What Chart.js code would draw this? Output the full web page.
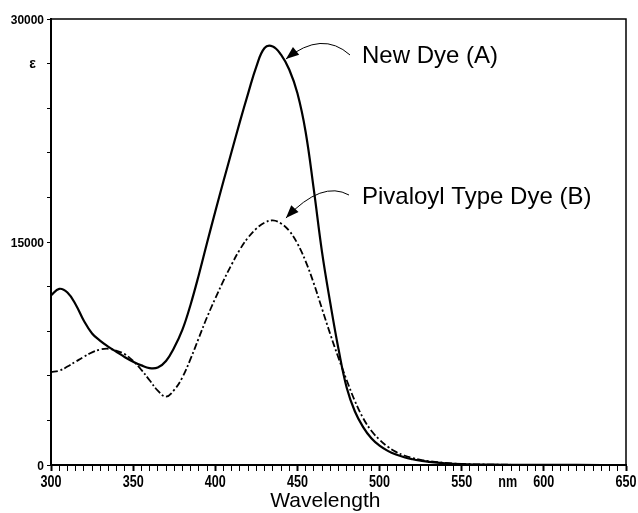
<!DOCTYPE html>
<html>
<head>
<meta charset="utf-8">
<title>Absorption spectra</title>
<script src="https://cdn.jsdelivr.net/npm/chart.js@4.4.1/dist/chart.umd.min.js"></script>
<style>
    html, body { margin: 0; padding: 0; background: #fff; }
    #wrap { width: 638px; height: 513px; position: relative; }
</style>
</head>
<body>
<div id="wrap"><canvas id="spectrum"></canvas></div>
<script>
// Wavelength (nm) samples shared by both curves
const wavelengths = [
    300, 305, 310, 315, 320, 325, 330, 335, 340, 345,
    350, 355, 360, 365, 370, 375, 380, 385, 390, 395,
    400, 405, 410, 415, 420, 425, 430, 435, 440, 445,
    450, 455, 460, 465, 470, 475, 480, 485, 490, 495,
    500, 505, 510, 515, 520, 525, 530, 540, 550, 560,
    570, 580, 600, 620, 650
];

// Molar absorptivity (epsilon)
const newDyeA = [
    11400, 11850, 11600, 10800, 9700, 8850, 8350, 7950, 7600, 7250,
    6950, 6700, 6520, 6560, 7000, 7900, 9100, 10800, 12800, 14950,
    17050, 19100, 21100, 23100, 25000, 26800, 28050, 28150, 27600, 26600,
    25000, 22400, 18500, 14300, 10900, 7800, 5200, 3600, 2550, 1800,
    1300, 950, 700, 520, 390, 290, 210, 110, 55, 30,
    20, 12, 6, 3, 0
];

const pivaloylDyeB = [
    6250, 6350, 6620, 6950, 7280, 7580, 7770, 7820, 7680, 7450,
    7000, 6400, 5700, 5000, 4600, 5050, 5900, 7150, 8550, 9950,
    11200, 12400, 13500, 14500, 15300, 15900, 16300, 16450, 16250, 15750,
    14900, 13700, 12200, 10500, 8800, 7200, 5700, 4300, 3150, 2300,
    1700, 1230, 880, 640, 470, 350, 260, 140, 70, 40,
    25, 15, 7, 3, 0
];

const seriesNames = ['New Dye (A)', 'Pivaloyl Type Dye (B)'];

// Axis text
const xTickLabels = [300, 350, 400, 450, 500, 550, 600, 650];
const yTickLabels = [0, 15000, 30000];
const xUnit = { text: 'nm', at: 578 };
const yUnit = { text: '\u03b5', at: 27000 };
const xTitle = { text: 'Wavelength', at: 467 };

// Callout text anchors and arrow paths, in data units [nm, epsilon]
const calloutText = [[489.3, 27020], [489.3, 17540]];
const calloutStart = [[482, 27580], [481.4, 18160]];
const calloutBend = [[465, 29260], [465, 19170]];
const calloutTip = [[443, 27310], [443, 16610]];

const SpectrumChart = (function() {
    'use strict';

    const textFont = "'Liberation Sans', Arial, sans-serif";

    function toPoints(ys) {
        return wavelengths.map((x, i) => ({ x: x, y: ys[i] }));
    }

    // squeezed bold text, like the narrow face on the original print
    function narrowText(ctx, text, x, y, align, squeeze) {
        ctx.save();
        ctx.translate(x, y);
        ctx.scale(squeeze, 1);
        ctx.textAlign = align;
        ctx.textBaseline = 'alphabetic';
        ctx.fillText(text, 0, 0);
        ctx.restore();
    }

    /**
     * Top and right edges of the frame
     */
    const framePlugin = {
        id: 'frame',
        afterDatasetsDraw(chart) {
            const { ctx, chartArea: a } = chart;
            ctx.save();
            ctx.strokeStyle = '#000';
            ctx.lineWidth = 1.5;
            ctx.beginPath();
            ctx.moveTo(a.left, a.top);
            ctx.lineTo(a.right, a.top);
            ctx.lineTo(a.right, a.bottom);
            ctx.stroke();
            ctx.restore();
        }
    };

    /**
     * Tick labels in a condensed bold face, plus the axis title
     */
    const axisTextPlugin = {
        id: 'axisText',
        afterDraw(chart) {
            const ctx = chart.ctx;
            const xs = chart.scales.x;
            const ys = chart.scales.y;
            const base = chart.chartArea.bottom + 22;

            ctx.save();
            ctx.fillStyle = '#000';
            ctx.font = 'bold 17px ' + textFont;
            xTickLabels.forEach(v => {
                narrowText(ctx, String(v), xs.getPixelForValue(v), base, 'center', 0.74);
            });
            narrowText(ctx, xUnit.text, xs.getPixelForValue(xUnit.at), base, 'center', 0.74);

            ctx.font = 'bold 13px ' + textFont;
            yTickLabels.forEach(v => {
                narrowText(ctx, String(v), 44, ys.getPixelForValue(v) + 4.5, 'right', 0.92);
            });
            ctx.font = 'bold 14px ' + textFont;
            narrowText(ctx, yUnit.text, 36, ys.getPixelForValue(yUnit.at) + 4, 'right', 1);

            ctx.font = '21px ' + textFont;
            narrowText(ctx, xTitle.text, xs.getPixelForValue(xTitle.at), chart.chartArea.bottom + 42, 'center', 1);
            ctx.restore();
        }
    };

    /**
     * Curved arrows with their labels
     */
    const calloutPlugin = {
        id: 'callouts',
        afterDraw(chart) {
            const ctx = chart.ctx;
            const xs = chart.scales.x;
            const ys = chart.scales.y;
            const px = p => [xs.getPixelForValue(p[0]), ys.getPixelForValue(p[1])];

            ctx.save();
            seriesNames.forEach((name, i) => {
                const s = px(calloutStart[i]);
                const c = px(calloutBend[i]);
                const t = px(calloutTip[i]);

                ctx.strokeStyle = '#000';
                ctx.lineWidth = 1;
                ctx.beginPath();
                ctx.moveTo(s[0], s[1]);
                ctx.quadraticCurveTo(c[0], c[1], t[0], t[1]);
                ctx.stroke();

                // arrow head along the end tangent
                const ang = Math.atan2(t[1] - c[1], t[0] - c[0]);
                const len = 13, half = 5;
                ctx.fillStyle = '#000';
                ctx.beginPath();
                ctx.moveTo(t[0], t[1]);
                ctx.lineTo(t[0] - len * Math.cos(ang) + half * Math.sin(ang),
                           t[1] - len * Math.sin(ang) - half * Math.cos(ang));
                ctx.lineTo(t[0] - len * Math.cos(ang) - half * Math.sin(ang),
                           t[1] - len * Math.sin(ang) + half * Math.cos(ang));
                ctx.closePath();
                ctx.fill();

                const p = px(calloutText[i]);
                ctx.font = '24px ' + textFont;
                ctx.textAlign = 'left';
                ctx.textBaseline = 'alphabetic';
                ctx.fillText(name, p[0], p[1]);
            });
            ctx.restore();
        }
    };

    function initialize() {
        const canvas = document.getElementById('spectrum');

        return new Chart(canvas, {
            type: 'line',
            data: {
                datasets: [{
                    label: seriesNames[0],
                    data: toPoints(newDyeA),
                    borderColor: '#000',
                    borderWidth: 2.2,
                    pointRadius: 0,
                    tension: 0.4,
                    fill: false
                }, {
                    label: seriesNames[1],
                    data: toPoints(pivaloylDyeB),
                    borderColor: '#000',
                    borderWidth: 1.8,
                    borderDash: [7, 2.5, 2, 2.5],
                    pointRadius: 0,
                    tension: 0.4,
                    fill: false
                }]
            },
            options: {
                responsive: true,
                maintainAspectRatio: false,
                animation: false,
                events: [],
                layout: { padding: { left: 0, top: 19, right: 12, bottom: 0 } },
                plugins: {
                    legend: { display: false },
                    tooltip: { enabled: false }
                },
                scales: {
                    x: {
                        type: 'linear',
                        min: 300,
                        max: 650,
                        afterFit: scale => {
                            scale.height = 48;
                            scale.paddingLeft = 0;
                            scale.paddingRight = 0;
                        },
                        border: { display: true, color: '#000', width: 2 },
                        grid: {
                            drawOnChartArea: false,
                            drawTicks: true,
                            tickLength: 6,
                            tickColor: '#000',
                            tickWidth: ctx => (ctx.tick && ctx.tick.value % 50 === 0) ? 2 : 1
                        },
                        ticks: {
                            stepSize: 5,
                            autoSkip: false,
                            maxRotation: 0,
                            callback: () => ''
                        }
                    },
                    y: {
                        type: 'linear',
                        min: 0,
                        max: 30000,
                        afterFit: scale => {
                            scale.width = 51;
                            scale.paddingTop = 0;
                            scale.paddingBottom = 0;
                        },
                        border: { display: true, color: '#000', width: 2 },
                        grid: {
                            drawOnChartArea: false,
                            drawTicks: true,
                            tickLength: 4,
                            tickColor: '#000',
                            tickWidth: 1
                        },
                        ticks: {
                            stepSize: 3000,
                            autoSkip: false,
                            callback: () => ''
                        }
                    }
                }
            },
            plugins: [framePlugin, axisTextPlugin, calloutPlugin]
        });
    }

    return { initialize };
})();

SpectrumChart.initialize();
</script>
</body>
</html>
